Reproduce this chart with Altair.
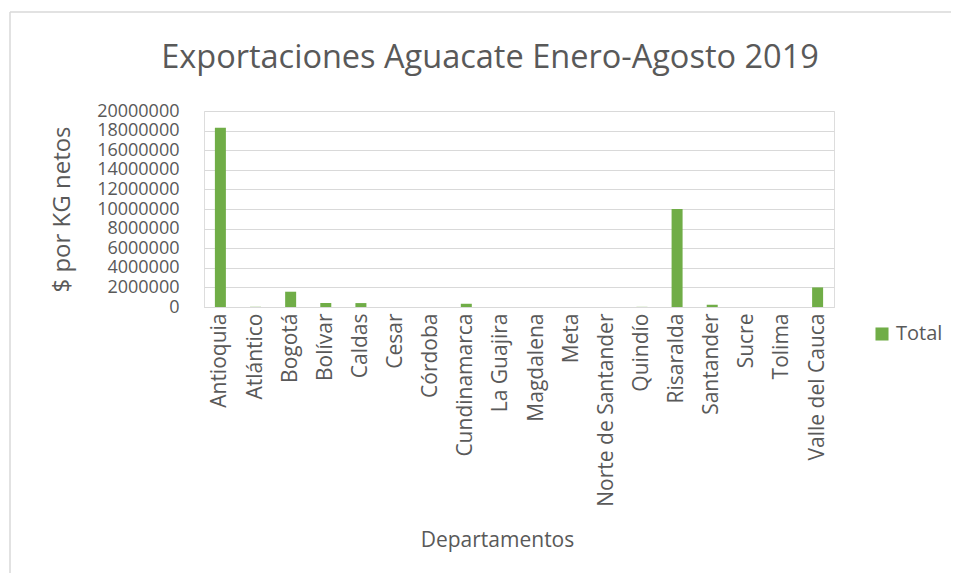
import altair as alt
import pandas as pd

departamentos = ["Antioquia", "Atlántico", "Bogotá", "Bolívar", "Caldas", "Cesar", "Córdoba",
                 "Cundinamarca", "La Guajira", "Magdalena", "Meta", "Norte de Santander",
                 "Quindío", "Risaralda", "Santander", "Sucre", "Tolima", "Valle del Cauca"]
valores = [18300000, 20000, 1560000, 400000, 400000, 0, 0,
           330000, 0, 0, 0, 0,
           15000, 10000000, 230000, 0, 0, 2000000]
serie = ["Total"] * len(departamentos)
titulo = ["Exportaciones Aguacate Enero-Agosto 2019"]

df = pd.DataFrame({"Departamento": departamentos, "Valor": valores, "Serie": serie})
df_title = pd.DataFrame({"t": titulo})

FONT = "Open Sans"
GRAY = "#595959"
W, H = 630, 196
PL, PT = 196, 103
PR = 943 - PL - W
PB = 565 - PT - H

bars = alt.Chart(df).mark_bar(color="#70AD47").encode(
    x=alt.X("Departamento:N", sort=departamentos,
            scale=alt.Scale(paddingInner=0.687, paddingOuter=0.31),
            axis=alt.Axis(title="Departamentos", labelAngle=-90, labelFontSize=21,
                          labelLimit=400, labelColor=GRAY, titleFontSize=21, titleColor=GRAY,
                          titleFontWeight="normal", ticks=False, domainColor="#D9D9D9",
                          labelPadding=6, titleX=293, titleY=233, titleBaseline="middle",
                          titleAnchor="middle", labelFont=FONT, titleFont=FONT)),
    y=alt.Y("Valor:Q", scale=alt.Scale(domain=[0, 20000000]),
            axis=alt.Axis(title="$ por KG netos", values=list(range(0, 20000001, 2000000)),
                          format="d", labelFontSize=18, labelColor=GRAY, titleFontSize=24,
                          titleColor=GRAY, titleFontWeight="normal", ticks=False, domain=False,
                          gridColor="#D9D9D9", labelPadding=25, titlePadding=22,
                          labelFont=FONT, titleFont=FONT)),
    fill=alt.Fill("Serie:N", scale=alt.Scale(range=["#70AD47"]),
                  legend=alt.Legend(title=None, orient="none", legendX=W + 38, legendY=213,
                                    symbolType="square", symbolSize=170, labelFontSize=20,
                                    labelColor=GRAY, labelFont=FONT, symbolStrokeWidth=0)),
)

title = alt.Chart(df_title).mark_text(font=FONT, fontSize=32.5, color=GRAY, align="center",
                                      baseline="alphabetic").encode(
    text="t:N", x=alt.value(490 - 8 - PL), y=alt.value(68 - 8 - PT))

border_top = alt.Chart(df_title).mark_rule(color="#D9D9D9", strokeWidth=1.5).encode(
    x=alt.value(-PL + 2), x2=alt.value(W + PR + 10), y=alt.value(-PT + 4))
border_left = alt.Chart(df_title).mark_rule(color="#D9D9D9", strokeWidth=1.5).encode(
    x=alt.value(-PL + 2), y=alt.value(-PT + 4), y2=alt.value(H + PB + 10))

chart = alt.layer(border_top, border_left, title, bars).properties(
    width=W, height=H,
    autosize=alt.AutoSizeParams(type="none"),
    padding={"left": PL, "top": PT, "right": PR, "bottom": PB},
).configure_view(strokeWidth=0).configure(background="white")

chart.save("out.html", embed_options={"renderer": "svg", "actions": False})
